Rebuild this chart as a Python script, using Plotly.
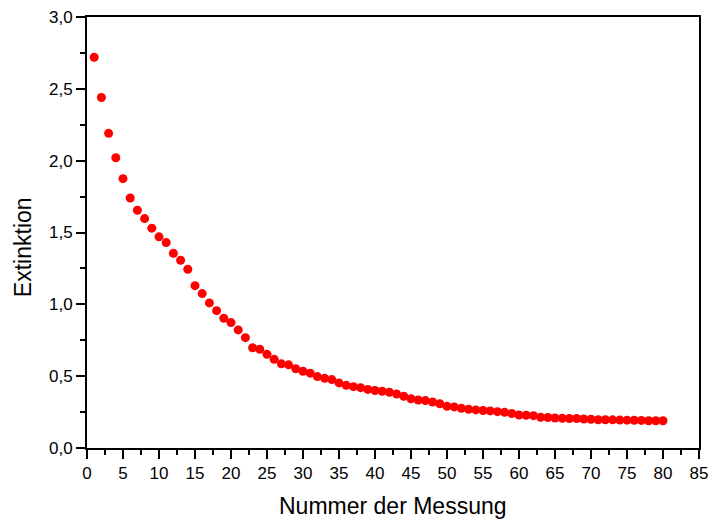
import plotly.graph_objects as go

# Messwerte: Extinktion je Messung
messung = list(range(1, 81))
extinktion = [
    2.72, 2.44, 2.19, 2.02, 1.875, 1.74, 1.655, 1.597, 1.53, 1.47,
    1.43, 1.355, 1.307, 1.244, 1.13, 1.075, 1.01, 0.956, 0.903, 0.873,
    0.822, 0.768, 0.698, 0.687, 0.652, 0.617, 0.586, 0.579, 0.551, 0.534,
    0.521, 0.497, 0.485, 0.476, 0.453, 0.436, 0.427, 0.42, 0.408, 0.40,
    0.395, 0.388, 0.376, 0.36, 0.343, 0.334, 0.33, 0.32, 0.308, 0.29,
    0.286, 0.276, 0.27, 0.265, 0.261, 0.258, 0.253, 0.248, 0.24, 0.23,
    0.228, 0.225, 0.214, 0.212, 0.209, 0.207, 0.205, 0.205, 0.202, 0.20,
    0.197, 0.197, 0.196, 0.195, 0.194, 0.193, 0.192, 0.19, 0.19, 0.19,
]

x_ticks = list(range(0, 90, 5))
y_ticks = [0.0, 0.5, 1.0, 1.5, 2.0, 2.5, 3.0]
x_title = "Nummer der Messung"
y_title = "Extinktion"

FONT = "Liberation Sans, Arial, sans-serif"

fig = go.Figure(
    go.Scatter(
        x=messung,
        y=extinktion,
        mode="markers",
        marker=dict(color="#ff0000", size=9, line=dict(width=0)),
        cliponaxis=False,
        showlegend=False,
    )
)

axis_common = dict(
    showgrid=False,
    zeroline=False,
    showline=True,
    linecolor="black",
    linewidth=2,
    mirror=True,
    ticks="outside",
    ticklen=9,
    tickwidth=2,
    tickcolor="black",
    tickfont=dict(family=FONT, size=17, color="black"),
    automargin=False,
    ticklabeloverflow="allow",
)

fig.update_xaxes(
    range=[0, 85],
    tickvals=x_ticks,
    ticktext=[str(v) for v in x_ticks],
    minor=dict(dtick=2.5, tick0=0, ticks="outside", ticklen=5, tickwidth=2, tickcolor="black"),
    **axis_common,
)
fig.update_yaxes(
    range=[0, 3],
    tickvals=y_ticks,
    ticktext=[f"{v:.1f}".replace(".", ",") for v in y_ticks],
    minor=dict(dtick=0.25, tick0=0, ticks="outside", ticklen=5, tickwidth=2, tickcolor="black"),
    **axis_common,
)

# Achsentitel als freie Beschriftungen
fig.add_annotation(
    text=x_title, xref="paper", yref="paper", x=0.5, y=-0.1346,
    xanchor="center", yanchor="middle", showarrow=False,
    font=dict(family=FONT, size=23, color="black"),
)
fig.add_annotation(
    text=y_title, xref="paper", yref="paper", x=-0.1046, y=0.466,
    xanchor="center", yanchor="middle", textangle=-90, showarrow=False,
    font=dict(family=FONT, size=23, color="black"),
)

fig.update_layout(
    width=708,
    height=520,
    margin=dict(l=87, r=9, t=17, b=72),
    paper_bgcolor="white",
    plot_bgcolor="white",
    font=dict(family=FONT, color="black"),
)

fig.write_html("out.html")
